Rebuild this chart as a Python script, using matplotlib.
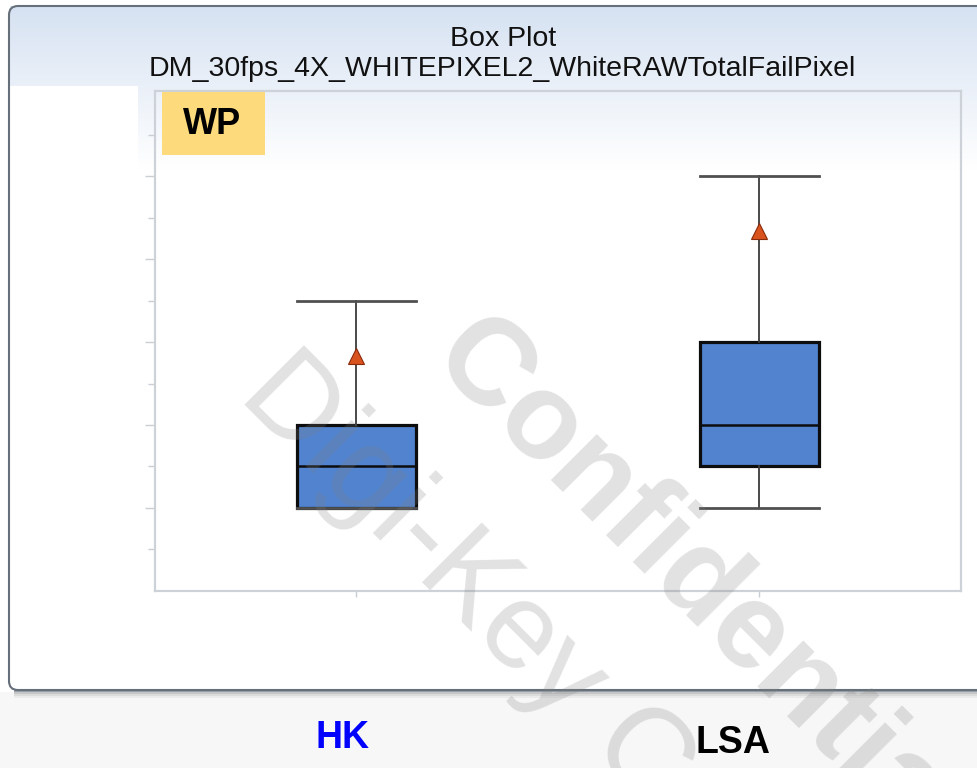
import numpy as np
import matplotlib
matplotlib.use("Agg")
import matplotlib.pyplot as plt
from matplotlib.patches import FancyBboxPatch, Rectangle
from matplotlib.ticker import FixedLocator

# ---------------- data ----------------
groups = ["HK", "LSA"]
group_colors = ["#0000ff", "#000000"]
whislo = [2.0, 2.0]
q1 = [2.0, 3.0]
med = [3.0, 4.0]
q3 = [4.0, 6.0]
whishi = [7.0, 10.0]
means = [5.67, 8.69]
major_ticks = [2, 4, 6, 8, 10]
minor_ticks = [1, 3, 5, 7, 9, 11]

title_lines = ["Box Plot", "DM_30fps_4X_WHITEPIXEL2_WhiteRAWTotalFailPixel"]
badge_text = "WP"
watermark_a = "Digi-Key Confidential"
watermark_b = "Confidential"

W, H = 978, 768
fig = plt.figure(figsize=(W / 100, H / 100), dpi=100)
fig.patch.set_facecolor("white")
plt.rcParams["font.family"] = ["Liberation Sans", "DejaVu Sans"]

# background axes in pixel coords (y downward)
bg = fig.add_axes([0, 0, 1, 1], zorder=0)
bg.set_xlim(0, W)
bg.set_ylim(H, 0)
bg.axis("off")

# area below the frame
bg.add_patch(Rectangle((0, 692), W, H - 692, facecolor="#f7f7f7", edgecolor="none"))
# header gradient
grad = np.linspace(0, 1, 200).reshape(-1, 1)
cmap = matplotlib.colors.LinearSegmentedColormap.from_list("hdr", ["#d6e2f2", "#ffffff"])
bg.imshow(grad, cmap=cmap, extent=(10, W, 170, 6), aspect="auto", zorder=1)
# white panel at left (hidden tick-label region)
bg.add_patch(Rectangle((10, 86), 128, 600, facecolor="white", edgecolor="none", zorder=2))
# shadow below frame
for i, c in enumerate(["#9aa0a6", "#c4c6c8", "#dcdcdc", "#ebebeb"]):
    bg.add_patch(Rectangle((14, 690 + i * 2), W, 2, facecolor=c, edgecolor="none", zorder=2))
# frame
bg.add_patch(FancyBboxPatch((9, 6), 1100, 684,
                            boxstyle="round,pad=0,rounding_size=9",
                            facecolor="none", edgecolor="#66707a", linewidth=1.5, zorder=3))

# titles
bg.text(503, 39, title_lines[0], ha="center", va="center", fontsize=20.5, color="#111111", zorder=4)
bg.text(502, 69, title_lines[1], ha="center", va="center", fontsize=20.5, color="#111111", zorder=4)

# ---------------- plot axes ----------------
ax = fig.add_axes([155 / W, 1 - 590.75 / H, 806 / W, 499.75 / H], zorder=1)
ax.set_facecolor("none")

stats = []
for i, g in enumerate(groups):
    stats.append(dict(label=g, whislo=whislo[i], q1=q1[i], med=med[i],
                      q3=q3[i], whishi=whishi[i], mean=means[i], fliers=[]))

ax.bxp(stats, positions=[1, 2], widths=0.293, patch_artist=True, showmeans=True,
       boxprops=dict(facecolor="#5183cf", edgecolor="#0d0d0d", linewidth=2.3),
       medianprops=dict(color="#0d0d0d", linewidth=1.8),
       whiskerprops=dict(color="#3a3a3a", linewidth=1.3),
       capprops=dict(color="#505050", linewidth=2.0),
       capwidths=0.293,
       meanprops=dict(marker="^", markerfacecolor="#d9531e", markeredgecolor="#8a2a0a",
                      markersize=12, markeredgewidth=0.8))

ax.set_xlim(0.5, 2.5)
ax.set_ylim(0, 12.06)
ax.yaxis.set_major_locator(FixedLocator(major_ticks))
ax.yaxis.set_minor_locator(FixedLocator(minor_ticks))
ax.tick_params(axis="y", which="major", length=7.5, width=1.0, color="#c9ced4", labelleft=False)
ax.tick_params(axis="y", which="minor", length=5, width=1.0, color="#c9ced4")
ax.set_xticks([1, 2])
ax.tick_params(axis="x", length=4, width=1.0, color="#c9ced4", labelbottom=False)
for s in ax.spines.values():
    s.set_color("#cdd2d8")
    s.set_linewidth(1.6)

# ---------------- overlay: badge, group labels, watermark ----------------
top = fig.add_axes([0, 0, 1, 1], zorder=10)
top.set_xlim(0, W)
top.set_ylim(H, 0)
top.axis("off")
top.patch.set_alpha(0)

top.add_patch(Rectangle((162, 92), 103, 63, facecolor="#fddb7d", edgecolor="none", zorder=1))
top.text(212, 125, badge_text, ha="center", va="center", fontsize=26, fontweight="bold",
         color="black", zorder=2)

label_x = [343, 733]
label_y = [738, 743]
for i, g in enumerate(groups):
    top.text(label_x[i], label_y[i], g, ha="center", va="center", fontsize=27,
             fontweight="bold", color=group_colors[i], zorder=2)

top.text(237, 397, watermark_a, rotation=-45, rotation_mode="anchor", ha="left",
         va="baseline", fontsize=88, color="#808080", alpha=0.23, zorder=3, clip_on=False)
top.text(428, 362, watermark_b, rotation=-45, rotation_mode="anchor", ha="left",
         va="baseline", fontsize=88, fontweight="bold", color="#808080", alpha=0.23,
         zorder=3, clip_on=False)

fig.savefig("out.png", dpi=100)
